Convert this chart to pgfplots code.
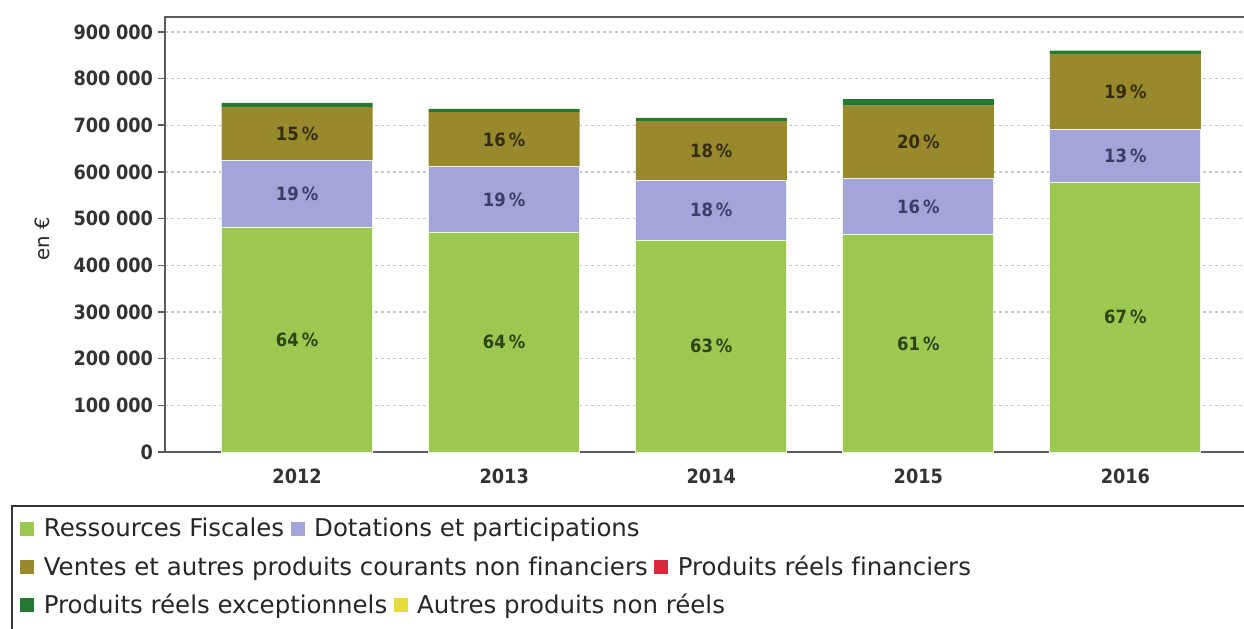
\documentclass[border=0pt]{standalone}
\usepackage{fontspec}
\setmainfont{DejaVu Sans}[Ligatures=NoCommon]
\newfontfamily\condfont{DejaVu Sans Condensed}
\usepackage{pgfplots}
\pgfplotsset{compat=1.18}
\usepackage{pgfplotstable}

\definecolor{cfisc}{HTML}{9CC852}
\definecolor{cdot}{HTML}{A3A4D8}
\definecolor{cvente}{HTML}{98892D}
\definecolor{cfin}{HTML}{D8283C}
\definecolor{cexc}{HTML}{237832}
\definecolor{cautre}{HTML}{E6DC3A}
\definecolor{gridc}{HTML}{C8C8C8}
\definecolor{axisc}{HTML}{5A5A5A}
\definecolor{tfisc}{HTML}{2E4416}
\definecolor{tdot}{HTML}{3A3D66}
\definecolor{tvente}{HTML}{342D10}

% produits de fonctionnement, en euros ; p* = parts affichees
\pgfplotstableread{
year fisc   dot    vente  fin exc   autre pf pd pv
0    480000 145000 114000 0   9000  0     64 19 15
1    471000 140000 117000 0   7000  0     64 19 16
2    454000 128000 127000 0   7000  0     63 18 18
3    465000 122000 155000 0   14000 0     61 16 20
4    578000 112000 163000 0   7000  0     67 13 19
}\budget

\newcommand{\sq}[1]{\raisebox{0.2mm}{\textcolor{#1}{\rule{3.5mm}{3.5mm}}}}
\newcommand{\ks}{\hspace{0.28em}}

\pgfplotsset{
  base/.style={
    at={(41.25mm,44mm)}, anchor=south west,
    scale only axis, width=273.75mm, height=108.75mm,
    xmin=-0.638, xmax=4.65, ymin=0, ymax=932000,
  },
  lbl/.style={only marks, mark=*, mark size=0pt, point meta=explicit symbolic,
    nodes near coords={\pgfplotspointmeta\,\%},
    every node near coord/.append style={text=#1}},
}

\begin{document}
\begin{tikzpicture}
\path[use as bounding box] (0,0) rectangle (311mm,157mm);
\clip (0,0) rectangle (311mm,157mm);

\begin{axis}[base,
  ybar stacked, bar width=37.75mm,
  xtick={0,1,2,3,4}, xticklabels={2012,2013,2014,2015,2016},
  ytick={0,100000,200000,300000,400000,500000,600000,700000,800000,900000},
  yticklabels={0,100\ks000,200\ks000,300\ks000,400\ks000,500\ks000,600\ks000,700\ks000,800\ks000,900\ks000},
  scaled y ticks=false,
  tick label style={font=\condfont\bfseries\fontsize{14}{14}\selectfont, text=black!80},
  xticklabel style={yshift=-1.2mm},
  x tick style={draw=none},
  ytick pos=left, tick align=outside, major tick length=1.75mm,
  y tick style={draw=axisc, line width=0.4mm},
  ymajorgrids, major grid style={draw=gridc, line width=0.3mm, dash pattern=on 0.8mm off 0.7mm},
  axis line style={draw=axisc, line width=0.5mm},
]
\addplot[fill=cfisc, draw=white!85!cfisc, line width=0.25mm] table[x=year, y=fisc] {\budget};
\addplot[fill=cdot, draw=white!85!cdot, line width=0.25mm] table[x=year, y=dot] {\budget};
\addplot[fill=cvente, draw=none] table[x=year, y=vente] {\budget};
\addplot[fill=cfin, draw=none] table[x=year, y=fin] {\budget};
\addplot[fill=cexc, draw=none] table[x=year, y=exc] {\budget};
\addplot[fill=cautre, draw=none] table[x=year, y=autre] {\budget};
\end{axis}

\begin{axis}[base, hide axis,
  every node near coord/.append style={anchor=center, font=\condfont\bfseries\fontsize{13}{13}\selectfont},
]
\addplot[lbl=tfisc] table[x=year, y expr=\thisrow{fisc}/2, meta=pf] {\budget};
\addplot[lbl=tdot] table[x=year, y expr=\thisrow{fisc}+\thisrow{dot}/2, meta=pd] {\budget};
\addplot[lbl=tvente] table[x=year, y expr=\thisrow{fisc}+\thisrow{dot}+\thisrow{vente}/2, meta=pv] {\budget};
\end{axis}

\node[rotate=90, font=\fontsize{14}{14}\selectfont, text=black!85] at (10.5mm,97.25mm) {en €};

% legende
\draw[line width=0.5mm, draw=black!80] (3mm,30.5mm) rectangle (320mm,-5mm);
\begin{scope}[every node/.style={anchor=west, inner sep=0pt, font=\fontsize{17.4}{17.4}\selectfont, text=black!85}]
\node at (5mm,24.5mm) {\sq{cfisc}\hspace{2.4mm}Ressources Fiscales\hspace{1.6mm}\sq{cdot}\hspace{2.4mm}Dotations et participations};
\node at (5mm,15mm) {\sq{cvente}\hspace{2.4mm}Ventes et autres produits courants non financiers\hspace{1.6mm}\sq{cfin}\hspace{2.4mm}Produits réels financiers};
\node at (5mm,5.5mm) {\sq{cexc}\hspace{2.4mm}Produits réels exceptionnels\hspace{1.6mm}\sq{cautre}\hspace{2.4mm}Autres produits non réels};
\end{scope}
\end{tikzpicture}
\end{document}
